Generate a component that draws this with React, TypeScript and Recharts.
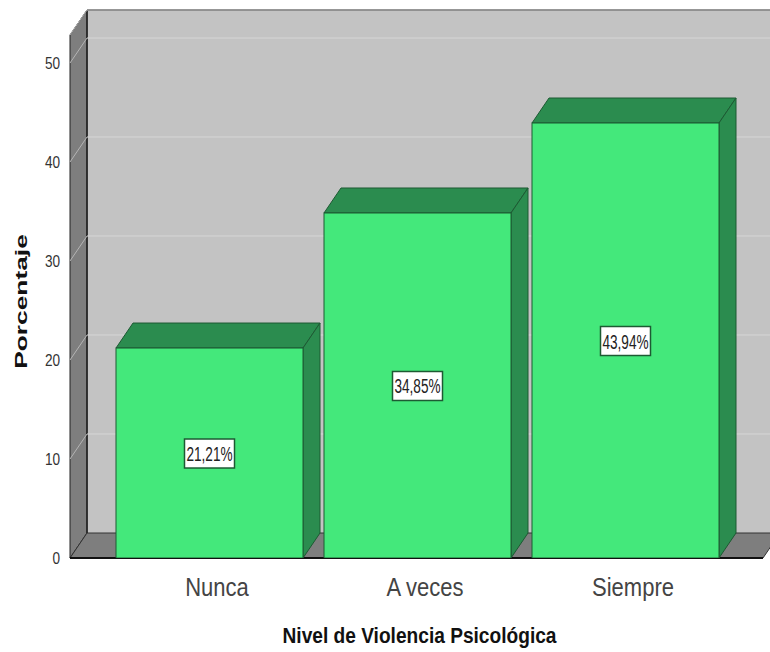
import { BarChart, Bar, XAxis, YAxis, CartesianGrid, LabelList } from "recharts";

const categories = ["Nunca", "A veces", "Siempre"];
const percentages = [21.21, 34.85, 43.94];
const yTicks = [0, 10, 20, 30, 40, 50];
const yMax = 52.83;

const data = categories.map((name, i) => ({ name, value: percentages[i] }));

// frame geometry
const W = 770;
const H = 652;
const LEFT = 70;
const TOP = 35;
const RIGHT = 763;
const BOTTOM = 558;
const DX = 17;
const DY = 25;

const FONT = '"Liberation Sans", Arial, sans-serif';
const FRONT = "#44e87b";
const SHADE = "#2b8c4f";
const EDGE = "#1d5a33";

// text squeezed horizontally, like the original picture
const SText = ({ x, y, sx = 1, size, anchor = "middle", weight = "normal", fill = "#333", children }: any) => (
  <text
    transform={`translate(${x},${y}) scale(${sx},1)`}
    textAnchor={anchor}
    fontSize={size}
    fontWeight={weight}
    fontFamily={FONT}
    fill={fill}
  >
    {children}
  </text>
);

const Bar3D = (props: any) => {
  const { x, y, width, height } = props;
  return (
    <g>
      <polygon
        points={`${x},${y} ${x + DX},${y - DY} ${x + width + DX},${y - DY} ${x + width},${y}`}
        fill={SHADE}
        stroke={EDGE}
        strokeWidth={1}
      />
      <polygon
        points={`${x + width},${y} ${x + width + DX},${y - DY} ${x + width + DX},${y + height - DY} ${x + width},${y + height}`}
        fill={SHADE}
        stroke={EDGE}
        strokeWidth={1}
      />
      <rect x={x} y={y} width={width} height={height} fill={FRONT} stroke={EDGE} strokeWidth={1} />
    </g>
  );
};

const ValueBox = (props: any) => {
  const { x, y, width, height, value } = props;
  const cx = x + width / 2;
  const cy = y + height / 2;
  const txt = Number(value).toFixed(2).replace(".", ",") + "%";
  return (
    <g>
      <rect x={cx - 25} y={cy - 14} width={50} height={29} fill="#fff" stroke={EDGE} strokeWidth={1.5} />
      <SText x={cx} y={cy + 8} sx={0.68} size={20} fill="#222">
        {txt}
      </SText>
    </g>
  );
};

const GridLine = (props: any) => {
  const { y1 } = props;
  if (y1 >= BOTTOM - 1) return <g />;
  return (
    <g>
      <line x1={LEFT} y1={y1} x2={LEFT + DX} y2={y1 - DY} stroke="#b4b4b4" strokeWidth={1} />
      <line x1={LEFT + DX} y1={y1 - DY} x2={W + 20} y2={y1 - DY} stroke="#d6d6d6" strokeWidth={1} />
    </g>
  );
};

const XTick = (props: any) => {
  const { x, y, payload } = props;
  return (
    <SText x={x + 8} y={y + 30} sx={0.88} size={25} fill="#444">
      {payload.value}
    </SText>
  );
};

const YTick = (props: any) => {
  const { x, y, payload } = props;
  return (
    <SText x={x - 2} y={y + 6} sx={0.8} size={17} anchor="end" fill="#333">
      {payload.value}
    </SText>
  );
};

function Frame() {
  return (
    <svg width={W} height={H} style={{ position: "absolute", left: 0, top: 0 }}>
      <rect x={0} y={0} width={W} height={H} fill="#fff" />
      {/* back wall */}
      <rect x={LEFT + DX} y={TOP - DY} width={W} height={BOTTOM - TOP} fill="#c3c3c3" />
      {/* left wall */}
      <polygon
        points={`${LEFT},${TOP} ${LEFT + DX},${TOP - DY} ${LEFT + DX},${BOTTOM - DY} ${LEFT},${BOTTOM}`}
        fill="#7e7e7e"
        stroke="#222"
        strokeWidth={1}
      />
      {/* floor */}
      <polygon
        points={`${LEFT},${BOTTOM} ${LEFT + DX},${BOTTOM - DY} ${RIGHT + DX},${BOTTOM - DY} ${RIGHT},${BOTTOM}`}
        fill="#7e7e7e"
        stroke="#333"
        strokeWidth={1}
      />
      <line x1={LEFT + DX} y1={TOP - DY} x2={W} y2={TOP - DY} stroke="#222" strokeWidth={1.5} />
      <line x1={LEFT + DX} y1={TOP - DY} x2={LEFT + DX} y2={BOTTOM - DY} stroke="#222" strokeWidth={1.5} />
      <line x1={LEFT} y1={BOTTOM} x2={RIGHT} y2={BOTTOM} stroke="#111" strokeWidth={2} />
      {/* axis titles */}
      <g transform="translate(27,301.5) rotate(-90) scale(1.55,1)">
        <text textAnchor="middle" fontSize={17} fontWeight="bold" fontFamily={FONT} fill="#111">
          Porcentaje
        </text>
      </g>
      <SText x={419.5} y={643} sx={0.87} size={22} weight="bold" fill="#111">
        Nivel de Violencia Psicológica
      </SText>
    </svg>
  );
}

export default function App() {
  return (
    <div style={{ position: "absolute", left: 0, top: 0, width: W, height: H }}>
      <Frame />
      <BarChart
        width={W}
        height={H}
        data={data}
        margin={{ top: TOP, right: W - RIGHT, bottom: 0, left: 0 }}
        barSize={187}
      >
        <CartesianGrid vertical={false} horizontal={GridLine} />
        <XAxis
          dataKey="name"
          height={H - BOTTOM}
          axisLine={false}
          tickLine={false}
          tick={XTick}
          padding={{ left: 35, right: 34 }}
          interval={0}
        />
        <YAxis
          width={LEFT}
          domain={[0, yMax]}
          ticks={yTicks}
          axisLine={false}
          tickLine={false}
          tick={YTick}
          allowDataOverflow
        />
        <Bar dataKey="value" shape={Bar3D} isAnimationActive={false}>
          <LabelList dataKey="value" content={ValueBox} />
        </Bar>
      </BarChart>
    </div>
  );
}
